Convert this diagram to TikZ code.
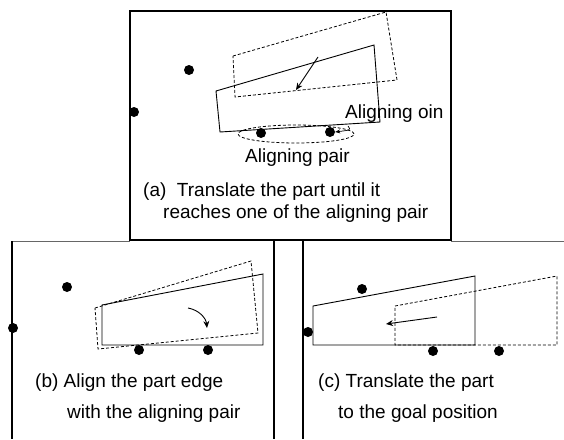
\documentclass[tikz,border=0pt]{standalone}
\usepackage{fontspec}
\setmainfont{Liberation Sans}
\usetikzlibrary{arrows.meta}
\begin{document}
\begin{tikzpicture}[x=1pt,y=-1pt,
  frame/.style={line width=1.4pt},
  thinframe/.style={line width=0.6pt, black!60},
  part/.style={line width=0.9pt, line join=miter},
  ghost/.style={line width=0.8pt, dash pattern=on 3pt off 2pt},
  pin/.style={circle, fill=black, draw=none, inner sep=0pt, minimum size=10pt},
  lbl/.style={inner sep=0pt, anchor=base west, font=\fontsize{19}{22}\selectfont},
  mv/.style={line width=0.9pt, -{Stealth[length=7pt,width=6pt]}}
]
\useasboundingbox (0,0) rectangle (564,439);
\fill[white] (0,0) rectangle (564,439);

% ---------- panel frames ----------
\draw[frame] (130,11) rectangle (451,240);
\draw[thinframe] (12,241) -- (130,241);
\draw[thinframe] (451,241) -- (564,241);
\draw[frame] (12,241) -- (12,439);
\draw[frame] (274,241) -- (274,439);
\draw[frame] (303,241) -- (303,439);

% ---------- panel (a) ----------
\draw[ghost] (233,56) -- (386,12) -- (397,80) -- (235,97) -- cycle;
\draw[part] (216,91) -- (374,45) -- (380,122) -- (220,132) -- cycle;
\draw[ghost] (296,134) ellipse [x radius=58pt, y radius=9pt];
\node[pin] (a1) at (189,70) {};
\node[pin] (a2) at (134,112) {};
\node[pin] (a3) at (261,133) {};
\node[pin] (a4) at (330,132) {};
\coordinate (aFrom) at (318,57);
\coordinate (aTo) at (296,90);
\draw[mv] (aFrom) -- (aTo);
\coordinate (pinTail) at (348,126);
\draw[line width=0.7pt, -{Stealth[length=5pt,width=4pt]}] (pinTail) .. controls (351,130) .. (a4.east);
\node[lbl] (pinlbl) at (345,118) {Aligning oin};
\node[lbl] (pairlbl) at (245,162) {Aligning pair};
\node[lbl] (capa1) at (143,196) {(a)\ \ Translate the part until it};
\node[lbl] (capa2) at (163,218) {reaches one of the aligning pair};

% ---------- panel (b) ----------
\draw[ghost] (95,308) -- (251,261) -- (258,333) -- (98,349) -- cycle;
\draw[part] (102,305) -- (263,274) -- (263,345) -- (102,345) -- cycle;
\node[pin] (b1) at (67,287) {};
\node[pin] (b2) at (13,328) {};
\node[pin] (b3) at (139,350) {};
\node[pin] (b4) at (208,350) {};
\coordinate (bFrom) at (188,308);
\coordinate (bTo) at (207,328);
\draw[mv] (bFrom) .. controls (199,310) and (206,318) .. (bTo);
\node[lbl] (capb1) at (35,387) {(b) Align the part edge};
\node[lbl] (capb2) at (67,418) {with the aligning pair};

% ---------- panel (c) ----------
\draw[ghost] (395,306) -- (557,276) -- (557,345) -- (395,345) -- cycle;
\draw[part] (313,306) -- (475,276) -- (475,345) -- (313,345) -- cycle;
\node[pin] (c1) at (362,289) {};
\node[pin] (c2) at (308,332) {};
\node[pin] (c3) at (433,351) {};
\node[pin] (c4) at (499,351) {};
\coordinate (cFrom) at (437,317);
\coordinate (cTo) at (386,324);
\draw[mv] (cFrom) -- (cTo);
\node[lbl] (capc1) at (318,387) {(c) Translate the part};
\node[lbl] (capc2) at (338,418) {to the goal position};
\end{tikzpicture}
\end{document}
